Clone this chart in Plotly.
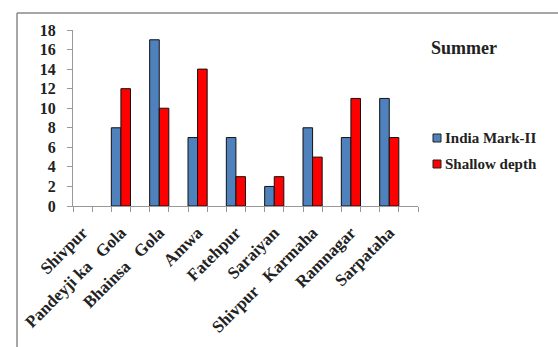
import plotly.graph_objects as go

# Sampling sites and counts per source type (summer)
sp = "\u00a0\u00a0\u00a0"
sites = ["Shivpur", "Pandeyji ka" + sp + "Gola", "Bhainsa" + sp + "Gola", "Amwa", "Fatehpur",
         "Saraiyan", "Shivpur" + sp + "Karmaha", "Ramnagar", "Sarpataha"]
india_mark_ii = [0, 8, 17, 7, 7, 2, 8, 7, 11]
shallow_depth = [0, 12, 10, 14, 3, 3, 5, 11, 7]
y_ticks = [0, 2, 4, 6, 8, 10, 12, 14, 16, 18]
series_names = ["India Mark-II", "Shallow depth"]
series_colors = ["#4F81BD", "#FF0000"]

W, H = 558, 347
L, R, T, B = 73, 140, 30, 141
pw, ph = W - L - R, H - T - B

def px_x(x):
    return (x - L) / pw

def px_y(y):
    return 1 - (y - T) / ph

serif = "Liberation Serif"

# each site sits in its own slot, followed by an empty slot
positions = [2 * i for i in range(len(sites))]

fig = go.Figure()
for name, vals, col in zip(series_names, [india_mark_ii, shallow_depth], series_colors):
    fig.add_bar(x=positions, y=vals, name=name, showlegend=False,
                marker=dict(color=col,
                            line=dict(color="#111111",
                                      width=[0 if v == 0 else 1 for v in vals])))

fig.update_layout(
    width=W, height=H,
    margin=dict(l=L, r=R, t=T, b=B, pad=0, autoexpand=False),
    paper_bgcolor="white", plot_bgcolor="white",
    barmode="group", bargap=0.5, bargroupgap=0,
    font=dict(family=serif, color="#222222"),
    xaxis=dict(range=[-0.5, 2 * len(sites) - 0.5], tickvals=positions, ticktext=sites,
               showgrid=False, showline=True, linecolor="#999999", linewidth=1,
               ticks="outside", ticklen=0, tickcolor="rgba(0,0,0,0)", tickangle=-45,
               ticklabelstandoff=9, zeroline=False,
               minor=dict(tick0=-0.5, dtick=1, ticks="outside", ticklen=5,
                          tickcolor="#999999", showgrid=False),
               tickfont=dict(family=serif, size=17, color="#222222", weight="bold")),
    yaxis=dict(range=[0, 18], tickvals=y_ticks, showgrid=False, showline=True,
               linecolor="#999999", linewidth=1, ticks="outside", ticklen=5,
               tickcolor="#999999", zeroline=False, ticklabelstandoff=8,
               tickfont=dict(family=serif, size=16, color="#222222", weight="bold")),
)

annotations = [dict(text="<b>Summer</b>", xref="paper", yref="paper",
                    x=px_x(429), y=px_y(48), xanchor="left", yanchor="middle",
                    showarrow=False, font=dict(family=serif, size=18, color="#222222"))]
shapes = [
    dict(type="line", xref="paper", yref="paper", x0=px_x(17), x1=px_x(560),
         y0=px_y(13), y1=px_y(13), line=dict(color="#888888", width=1.5)),
    dict(type="line", xref="paper", yref="paper", x0=px_x(17), x1=px_x(17),
         y0=px_y(13), y1=px_y(350), line=dict(color="#888888", width=1.5)),
]
# legend entries: small square swatch plus bold label
for i, (name, col) in enumerate(zip(series_names, series_colors)):
    cy = 138 + 26 * i
    shapes.append(dict(type="rect", xref="paper", yref="paper",
                       x0=px_x(433), x1=px_x(441), y0=px_y(cy - 4), y1=px_y(cy + 4),
                       fillcolor=col, line=dict(color="#222222", width=1)))
    annotations.append(dict(text=f"<b>{name}</b>", xref="paper", yref="paper",
                            x=px_x(443), y=px_y(cy), xanchor="left", yanchor="middle",
                            showarrow=False,
                            font=dict(family=serif, size=15, color="#222222")))

fig.update_layout(annotations=annotations, shapes=shapes)
fig.write_html("out.html")
